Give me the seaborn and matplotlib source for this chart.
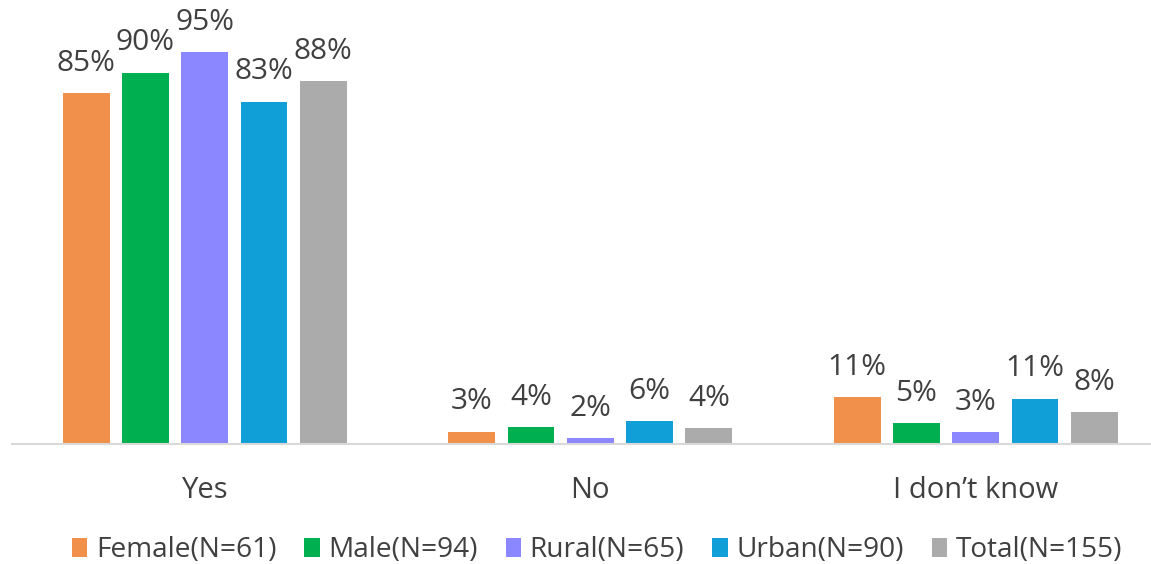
import matplotlib
matplotlib.use("Agg")
import matplotlib.pyplot as plt
import seaborn as sns
import pandas as pd

categories = ["Yes", "No", "I don\u2019t know"]
groups = ["Female(N=61)", "Male(N=94)", "Rural(N=65)", "Urban(N=90)", "Total(N=155)"]
female = [85.0, 3.0, 11.3]
male = [90.0, 4.0, 5.1]
rural = [95.0, 1.5, 2.9]
urban = [83.0, 5.5, 11.0]
total = [88.0, 3.8, 7.7]
colors = ["#F0904A", "#00B050", "#8B87FF", "#119FD8", "#ABABAB"]

rows = []
for g, vals in zip(groups, [female, male, rural, urban, total]):
    for c, v in zip(categories, vals):
        rows.append({"category": c, "group": g, "value": v})
df = pd.DataFrame(rows)

sns.set_style("white")
plt.rcParams["font.family"] = ["Open Sans", "DejaVu Sans"]

W, H = 1151, 564
fig = plt.figure(figsize=(W / 100, H / 100), dpi=100)
left_px, base_px = 12, 444
px_per_pct = 4.126
ax = fig.add_axes([left_px / W, (H - base_px) / H, (W - left_px) / W, 100 * px_per_pct / H])

sns.barplot(data=df, x="category", y="value", hue="group", order=categories,
            hue_order=groups, palette=colors, width=0.769, gap=0.21,
            saturation=1, ax=ax, legend=True, edgecolor="none")

ax.set_ylim(0, 100)
ax.set_xlim(-0.5, -0.5 + (W - left_px) / 385.5)
for cont in ax.containers:
    ax.bar_label(cont, labels=[f"{int(v + 0.5)}%" for v in cont.datavalues],
                 padding=11, fontsize=21.5, color="#404040", clip_on=False)

ax.set_xlabel("")
ax.set_ylabel("")
ax.set_yticks([])
ax.tick_params(axis="x", length=0, pad=23, labelsize=21, labelcolor="#404040")
for s in ["top", "right", "left"]:
    ax.spines[s].set_visible(False)
ax.spines["bottom"].set_color("#D9D9D9")
ax.spines["bottom"].set_linewidth(1.5)

handles, labels = ax.get_legend_handles_labels()
ax.legend_.remove()
fig.legend(handles, labels, loc="center", bbox_to_anchor=(597 / W, 1 - 550 / H),
           ncol=5, frameon=False, fontsize=20.2, handlelength=0.55, handleheight=0.65,
           handletextpad=0.3, columnspacing=1.0, labelcolor="#404040")

fig.savefig("out.png", dpi=100)
